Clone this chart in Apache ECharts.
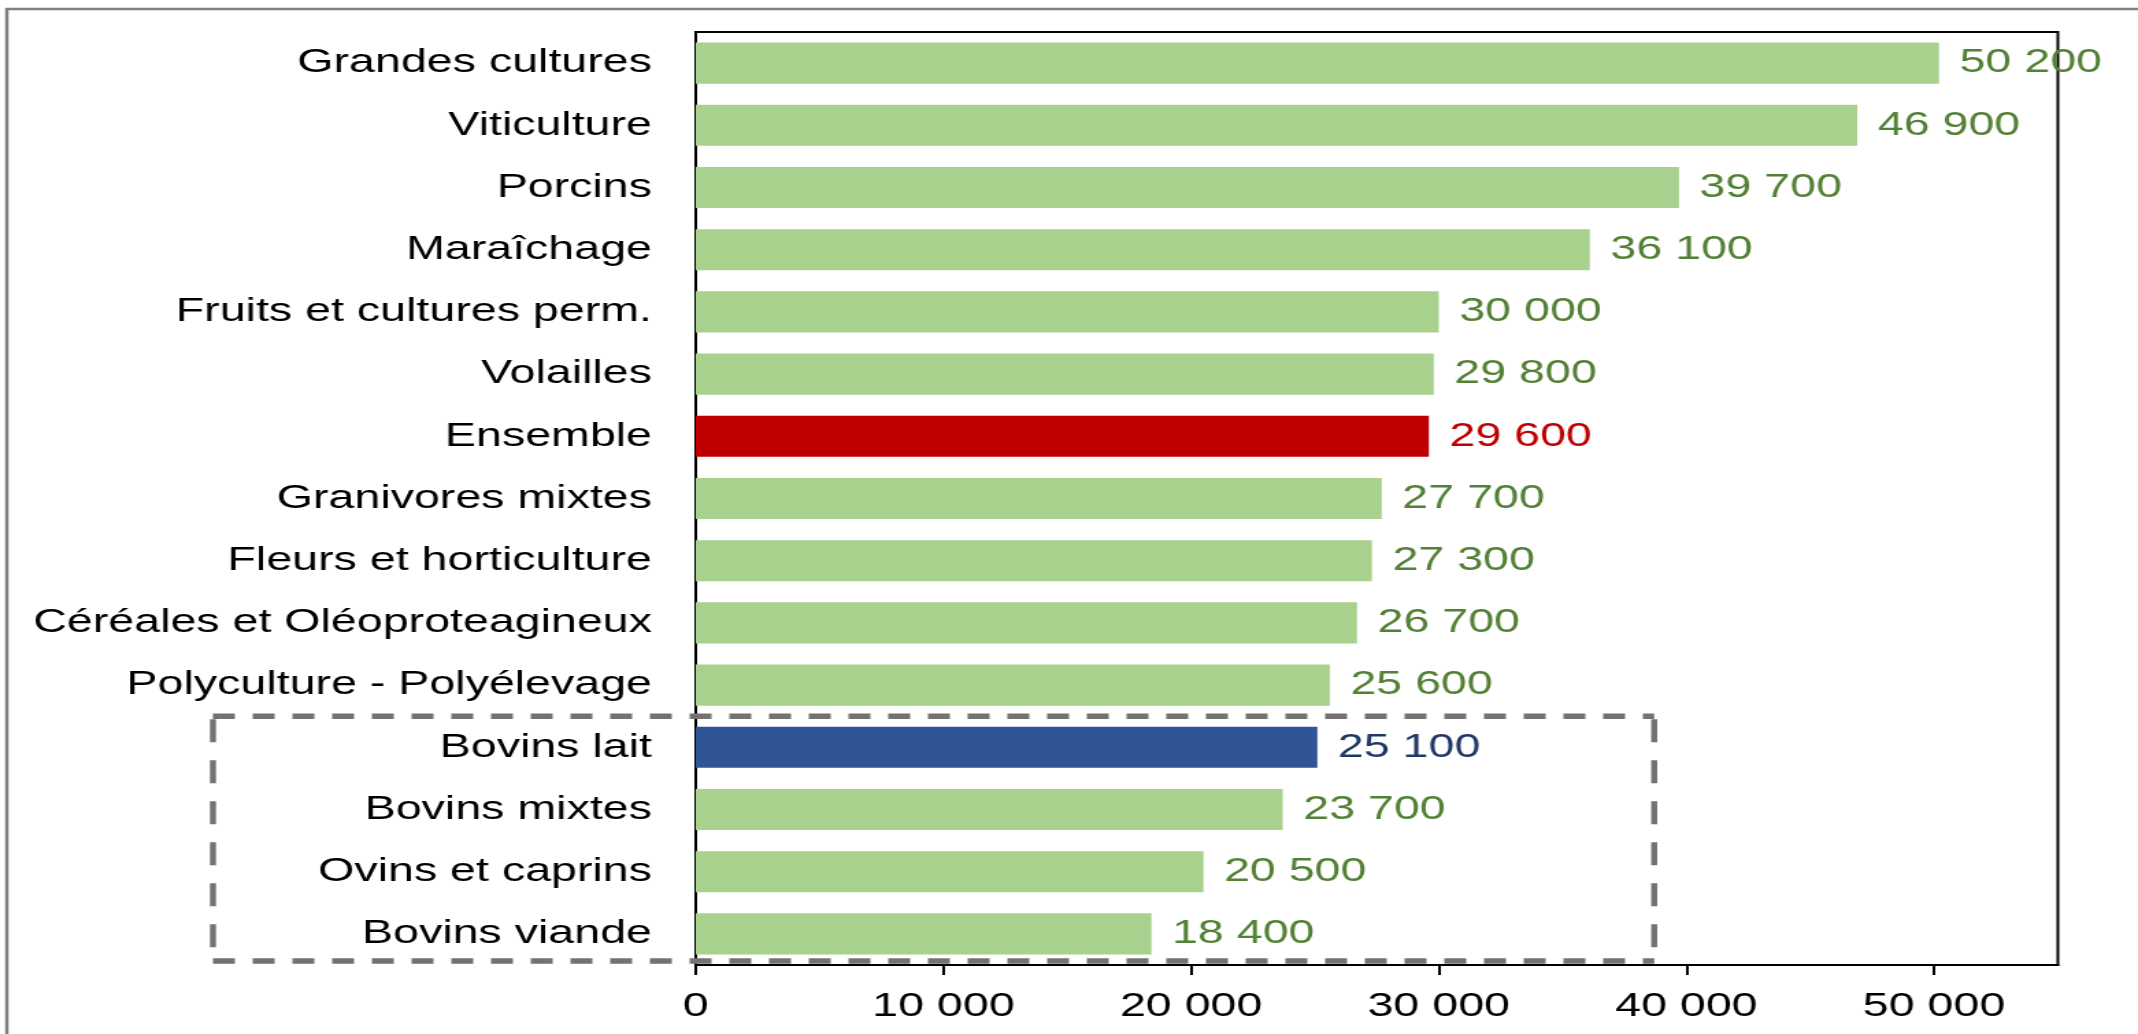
<!DOCTYPE html>
<html><head><meta charset="utf-8">
<script src="https://cdn.jsdelivr.net/npm/echarts@6/dist/echarts.min.js"></script>
<style>
html,body{margin:0;padding:0;background:#fff;overflow:hidden;width:2138px;height:1034px}
#c{width:1561px;height:1034px;transform:scaleX(1.36963);transform-origin:0 0}
</style>
</head><body><div id="c"></div>
<script>
const categories = ["Grandes cultures","Viticulture","Porcins","Maraîchage","Fruits et cultures perm.","Volailles","Ensemble","Granivores mixtes","Fleurs et horticulture","Céréales et Oléoproteagineux","Polyculture - Polyélevage","Bovins lait","Bovins mixtes","Ovins et caprins","Bovins viande"];
const values = [50200,46900,39700,36100,30000,29800,29600,27700,27300,26700,25600,25100,23700,20500,18400];
const highlightRed = "Ensemble";
const highlightBlue = "Bovins lait";
const boxFirst = "Bovins lait";
const boxRightValue = 38700;
const xTicks = [0,10000,20000,30000,40000,50000];

(function(){
const FONT = "Liberation Sans, Arial, sans-serif";
const fmt = v => String(v).replace(/\B(?=(\d{3})+(?!\d))/g, " ");
const data = categories.map((c,i) => {
  let bar = "#A9D18E", txt = "#538135";
  if (c === highlightRed) { bar = "#C00000"; txt = "#C00000"; }
  if (c === highlightBlue) { bar = "#2F5597"; txt = "#203864"; }
  return { value: values[i], itemStyle: { color: bar }, label: { color: txt } };
});

const chart = echarts.init(document.getElementById('c'), null, {renderer:'canvas', width: 1561, height: 1034});
const option = {
  animation: false,
  backgroundColor: '#fff',
  grid: { left: 508, right: 58.5, top: 32, bottom: 69, containLabel: false, show: true, borderColor: '#000', borderWidth: 2, backgroundColor: 'transparent' },
  xAxis: {
    type: 'value', min: 0, max: 55000, interval: 10000,
    axisLine: { show: true, lineStyle: { color: '#000', width: 2 } },
    axisTick: { show: true, length: 10, customValues: xTicks, lineStyle: { color: '#000', width: 2 } },
    splitLine: { show: false },
    axisLabel: { fontFamily: FONT, fontSize: 34, color: '#000', margin: 25, customValues: xTicks,
      formatter: v => (xTicks.indexOf(v) >= 0 ? fmt(v) : '') }
  },
  yAxis: {
    type: 'category', data: categories, inverse: true,
    axisLine: { show: true, lineStyle: { color: '#000', width: 2 } },
    axisTick: { show: false },
    axisLabel: { fontFamily: FONT, fontSize: 34, color: '#000', margin: 32 }
  },
  series: [{
    type: 'bar', data: data, barCategoryGap: '34%',
    label: { show: true, position: 'right', distance: 15, fontFamily: FONT, fontSize: 34, formatter: p => fmt(p.value) }
  }]
};
chart.setOption(option);

const bi = categories.indexOf(boxFirst);
const yA = chart.convertToPixel({yAxisIndex:0}, bi - 1);
const yB = chart.convertToPixel({yAxisIndex:0}, bi);
const yLast = chart.convertToPixel({yAxisIndex:0}, categories.length - 1);
const band = yB - yA;
const bTop = (yA + yB) / 2;
const bBottom = yLast + band / 2 - 4;
const bRight = chart.convertToPixel({xAxisIndex:0}, boxRightValue);
const bLeft = 155.5;
const hStyle = { stroke: '#767171', lineWidth: 5.5, lineDash: [16, 13] };
const vStyle = { stroke: '#767171', lineWidth: 4.4, lineDash: [23, 18] };
chart.setOption({
  graphic: [
    { type: 'rect', shape: { x: 5, y: 9, width: 1700, height: 1100 }, style: { fill: 'none', stroke: '#7f7f7f', lineWidth: 2.5 }, silent: true },
    { type: 'line', shape: { x1: bLeft, y1: bTop, x2: bRight, y2: bTop }, style: hStyle, silent: true, z: 100 },
    { type: 'line', shape: { x1: bLeft, y1: bBottom, x2: bRight, y2: bBottom }, style: hStyle, silent: true, z: 100 },
    { type: 'line', shape: { x1: bLeft, y1: bTop + 3, x2: bLeft, y2: bBottom - 3 }, style: vStyle, silent: true, z: 100 },
    { type: 'line', shape: { x1: bRight, y1: bTop + 3, x2: bRight, y2: bBottom - 3 }, style: vStyle, silent: true, z: 100 }
  ]
});
})();
</script></body></html>
